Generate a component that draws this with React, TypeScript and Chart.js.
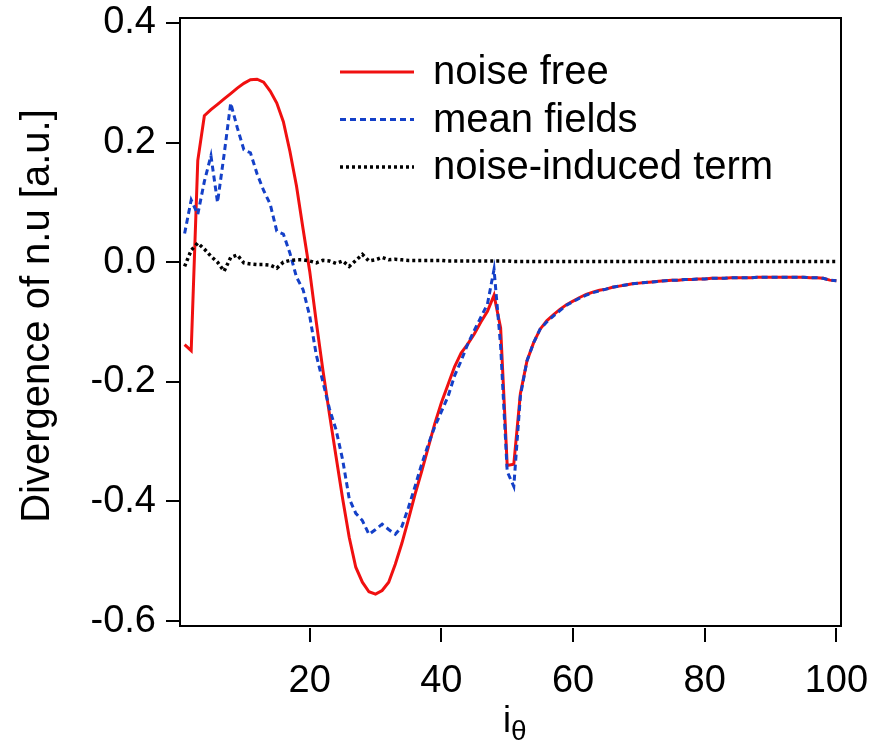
import React, { useEffect, useRef } from "react";
import { Chart, registerables } from "chart.js";

Chart.register(...registerables);

// index i_theta (1..100)
const iTheta: number[] = Array.from({ length: 100 }, (_, k) => k + 1);

const noiseFree: number[] = [
  -0.138, -0.148, 0.17, 0.245, 0.255, 0.264, 0.273, 0.282, 0.291, 0.299,
  0.305, 0.306, 0.301, 0.286, 0.266, 0.235, 0.185, 0.127, 0.055, -0.015,
  -0.1, -0.18, -0.254, -0.325, -0.395, -0.46, -0.51, -0.535, -0.551, -0.555,
  -0.549, -0.535, -0.505, -0.47, -0.43, -0.388, -0.35, -0.31, -0.27, -0.235,
  -0.205, -0.175, -0.152, -0.137, -0.12, -0.1, -0.082, -0.055, -0.11, -0.34,
  -0.338, -0.22, -0.165, -0.135, -0.112, -0.098, -0.088, -0.079, -0.071, -0.065,
  -0.059, -0.054, -0.05, -0.047, -0.045, -0.042, -0.04, -0.038, -0.036, -0.035,
  -0.034, -0.033, -0.032, -0.031, -0.03, -0.03, -0.029, -0.029, -0.028, -0.028,
  -0.027, -0.027, -0.027, -0.026, -0.026, -0.026, -0.026, -0.025, -0.025, -0.025,
  -0.025, -0.025, -0.025, -0.025, -0.025, -0.026, -0.026, -0.027, -0.03, -0.031,
];

const meanFields: number[] = [
  0.048, 0.104, 0.08, 0.135, 0.178, 0.1, 0.18, 0.266, 0.225, 0.188,
  0.183, 0.148, 0.12, 0.097, 0.052, 0.047, 0.015, -0.025, -0.046, -0.09,
  -0.155, -0.2, -0.245, -0.28, -0.33, -0.395, -0.42, -0.432, -0.455, -0.447,
  -0.438, -0.447, -0.455, -0.442, -0.41, -0.375, -0.338, -0.305, -0.275, -0.25,
  -0.225, -0.19, -0.165, -0.137, -0.114, -0.092, -0.07, -0.012, -0.14, -0.35,
  -0.375, -0.224, -0.165, -0.135, -0.112, -0.1, -0.09, -0.081, -0.072, -0.066,
  -0.06, -0.055, -0.051, -0.048, -0.045, -0.042, -0.04, -0.038, -0.036, -0.035,
  -0.034, -0.033, -0.032, -0.031, -0.03, -0.03, -0.029, -0.029, -0.028, -0.028,
  -0.027, -0.027, -0.027, -0.026, -0.026, -0.026, -0.026, -0.025, -0.025, -0.025,
  -0.025, -0.025, -0.025, -0.025, -0.025, -0.026, -0.026, -0.027, -0.03, -0.031,
];

const noiseInduced: number[] = [
  -0.007, 0.02, 0.032, 0.022, 0.01, 0.0, -0.015, 0.008, 0.012, -0.001,
  -0.003, -0.004, -0.004, -0.005, -0.01, 0.0, 0.003, 0.004, 0.004, 0.002,
  -0.001, 0.003, 0.002, -0.002, 0.002, -0.007, 0.003, 0.013, 0.002, 0.004,
  0.008, 0.004, 0.005, 0.004, 0.003, 0.003, 0.003, 0.003, 0.003, 0.003,
  0.002, 0.002, 0.002, 0.002, 0.002, 0.002, 0.002, 0.002, 0.002, 0.002,
  0.001, 0.001, 0.001, 0.001, 0.001, 0.001, 0.001, 0.001, 0.001, 0.001,
  0.001, 0.001, 0.001, 0.001, 0.001, 0.001, 0.001, 0.001, 0.001, 0.001,
  0.001, 0.001, 0.001, 0.001, 0.001, 0.001, 0.001, 0.001, 0.001, 0.001,
  0.001, 0.001, 0.001, 0.001, 0.001, 0.001, 0.001, 0.001, 0.001, 0.001,
  0.001, 0.001, 0.001, 0.001, 0.001, 0.001, 0.001, 0.001, 0.001, 0.001,
];

const seriesLabels: string[] = ["noise free", "mean fields", "noise-induced term"];
const xTicks: number[] = [20, 40, 60, 80, 100];
const yTicks: number[] = [-0.6, -0.4, -0.2, 0, 0.2, 0.4];
const yTitle = "Divergence of n.u [a.u.]";
const xTitleMain = "i";
const xTitleSub = "θ";

const FONT = '"Liberation Sans", Arial, Helvetica, sans-serif';

const toPoints = (vals: number[]) => vals.map((v, k) => ({ x: iTheta[k], y: v }));

const decorPlugin = {
  id: "decor",
  afterDraw(chart: any) {
    const { ctx, chartArea: a, scales } = chart;
    ctx.save();
    // frame
    ctx.strokeStyle = "#000";
    ctx.lineWidth = 2;
    ctx.setLineDash([]);
    ctx.strokeRect(a.left, a.top, a.right - a.left, a.bottom - a.top);
    // detached x tick marks
    const xs = scales.x;
    ctx.beginPath();
    for (const t of xs.ticks) {
      const px = Math.round(xs.getPixelForValue(t.value));
      ctx.moveTo(px, a.bottom + 2);
      ctx.lineTo(px, a.bottom + 16);
    }
    ctx.stroke();

    ctx.fillStyle = "#000";
    // y title
    ctx.font = `40px ${FONT}`;
    ctx.textAlign = "center";
    ctx.textBaseline = "middle";
    ctx.save();
    ctx.translate(38, 316);
    ctx.rotate(-Math.PI / 2);
    ctx.fillText(yTitle, 0, 0);
    ctx.restore();

    // x title with subscript
    ctx.textAlign = "left";
    ctx.textBaseline = "alphabetic";
    ctx.font = `36px ${FONT}`;
    ctx.fillText(xTitleMain, 503, 732);
    const w = ctx.measureText(xTitleMain).width;
    ctx.font = `28px ${FONT}`;
    ctx.fillText(xTitleSub, 503 + w, 740);

    // legend
    chart.data.datasets.forEach((ds: any, k: number) => {
      const y = 72 + k * 47.5;
      ctx.save();
      ctx.strokeStyle = ds.borderColor;
      ctx.lineWidth = ds.borderWidth;
      ctx.setLineDash(ds.borderDash || []);
      ctx.beginPath();
      ctx.moveTo(340, y);
      ctx.lineTo(414, y);
      ctx.stroke();
      ctx.restore();
      ctx.font = `40px ${FONT}`;
      ctx.textAlign = "left";
      ctx.textBaseline = "middle";
      ctx.fillStyle = "#000";
      ctx.fillText(ds.label, 433, y + 1);
    });
    ctx.restore();
  },
};

export default function App() {
  const ref = useRef<HTMLCanvasElement | null>(null);
  useEffect(() => {
    if (!ref.current) return;
    const chart = new Chart(ref.current, {
      type: "line",
      data: {
        datasets: [
          {
            label: seriesLabels[0],
            data: toPoints(noiseFree),
            borderColor: "#f01010",
            borderWidth: 3,
            pointRadius: 0,
            tension: 0,
            order: 2,
          },
          {
            label: seriesLabels[1],
            data: toPoints(meanFields),
            borderColor: "#1440c8",
            borderWidth: 3,
            borderDash: [6, 4],
            pointRadius: 0,
            tension: 0,
            order: 1,
          },
          {
            label: seriesLabels[2],
            data: toPoints(noiseInduced),
            borderColor: "#000000",
            borderWidth: 3.5,
            borderDash: [3, 3],
            pointRadius: 0,
            tension: 0,
            order: 0,
          },
        ],
      },
      options: {
        responsive: false,
        animation: false,
        devicePixelRatio: 1,
        layout: { padding: { top: 18, right: 40, left: 0, bottom: 0 } },
        plugins: { legend: { display: false }, tooltip: { enabled: false } },
        scales: {
          x: {
            type: "linear",
            min: 0.3,
            max: 100.7,
            afterBuildTicks: (s: any) => {
              s.ticks = xTicks.map((v) => ({ value: v }));
            },
            afterFit: (s: any) => {
              s.height = 116;
              s.paddingLeft = 0;
              s.paddingRight = 0;
              s.paddingTop = 0;
              s.paddingBottom = 0;
            },
            grid: { display: false },
            border: { display: false },
            ticks: {
              padding: 25,
              maxRotation: 0,
              autoSkip: false,
              color: "#000",
              font: { family: FONT, size: 38 },
              callback: (v: any) => String(v),
            },
          },
          y: {
            type: "linear",
            min: -0.6083,
            max: 0.4083,
            afterBuildTicks: (s: any) => {
              s.ticks = yTicks.map((v) => ({ value: v }));
            },
            afterFit: (s: any) => {
              s.width = 180;
              s.paddingLeft = 0;
              s.paddingRight = 0;
              s.paddingTop = 0;
              s.paddingBottom = 0;
            },
            grid: {
              display: true,
              drawOnChartArea: false,
              drawTicks: true,
              tickLength: 14,
              lineWidth: 2,
              color: "#000",
            },
            border: { display: false },
            ticks: {
              padding: 10,
              autoSkip: false,
              color: "#000",
              font: { family: FONT, size: 38 },
              callback: (v: any) => Number(v).toFixed(1),
            },
          },
        },
      },
      plugins: [decorPlugin],
    });
    return () => chart.destroy();
  }, []);
  return (
    <div style={{ position: "fixed", left: 0, top: 0, width: 881, height: 742, background: "#fff" }}>
      <canvas ref={ref} width={881} height={742} style={{ display: "block" }} />
    </div>
  );
}
